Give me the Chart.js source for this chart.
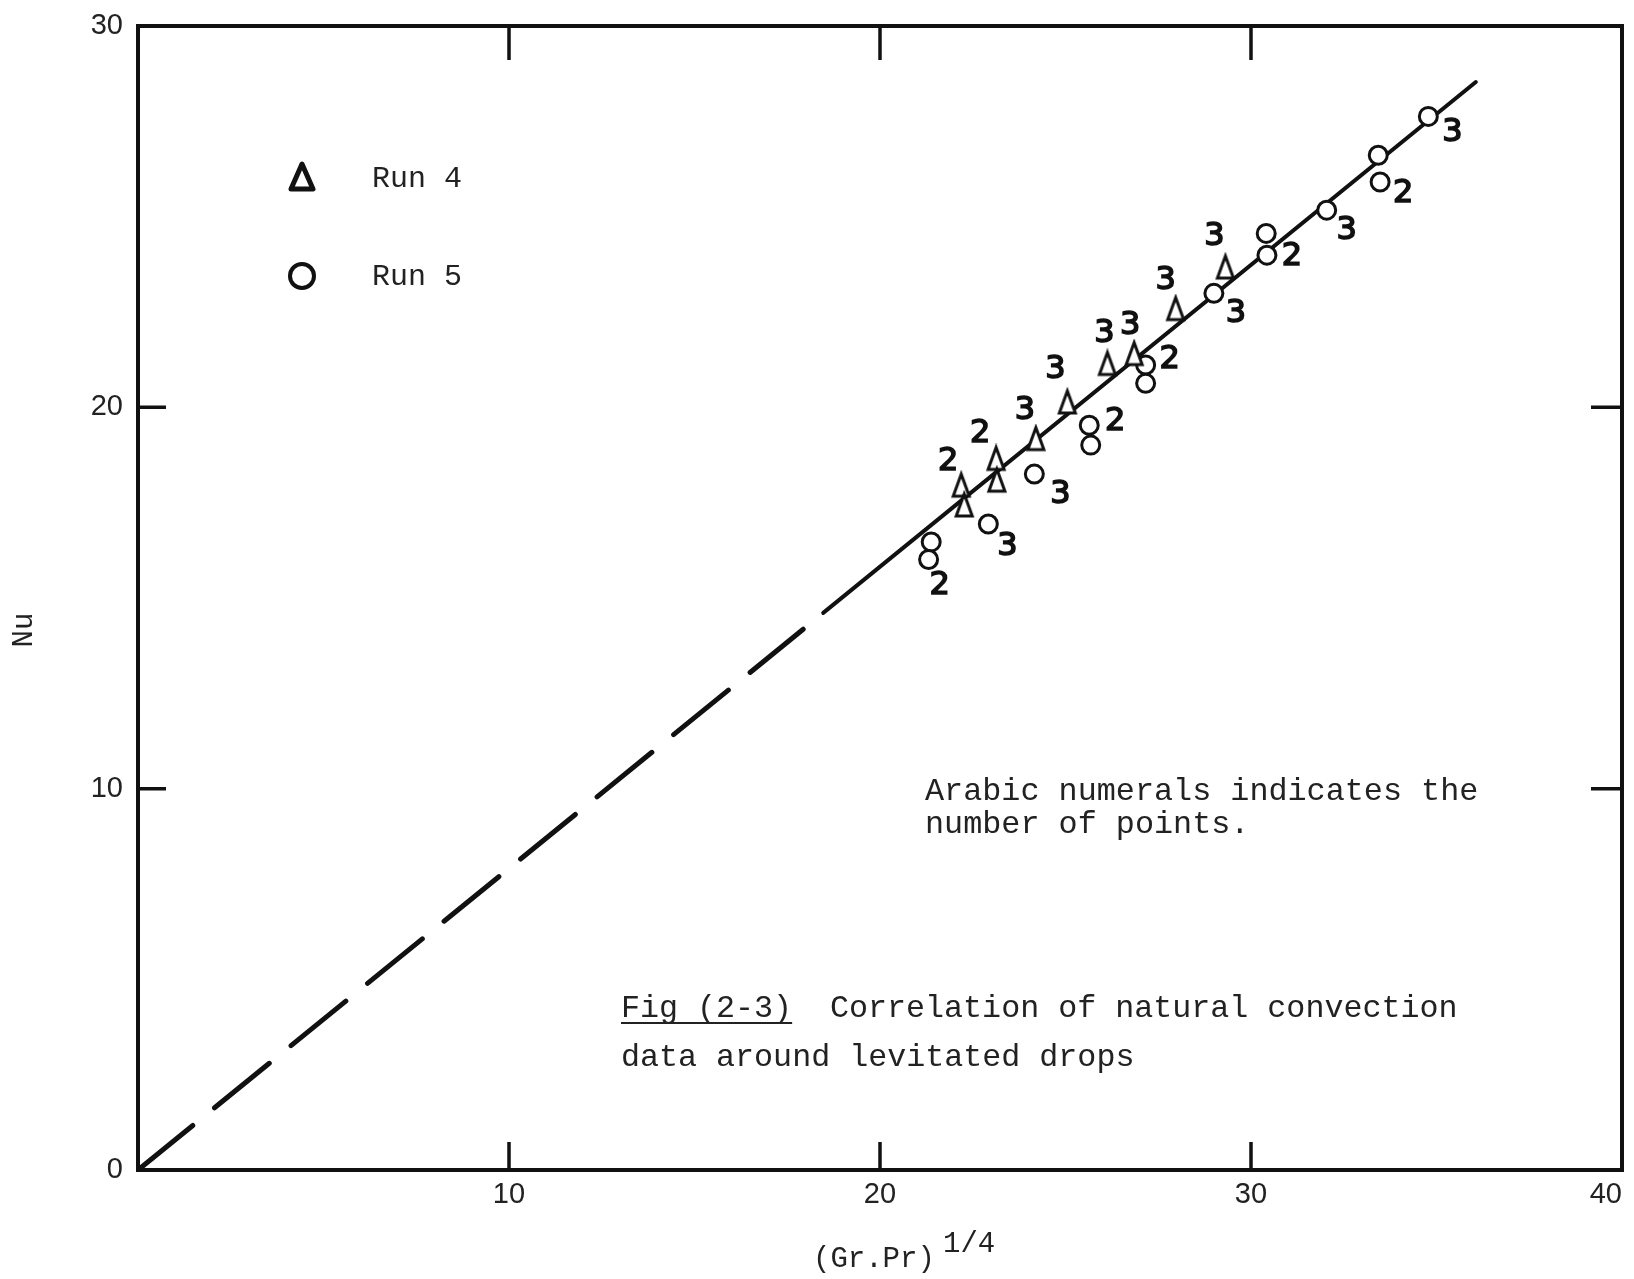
<!DOCTYPE html>
<html>
<head>
<meta charset="utf-8">
<script src="https://cdn.jsdelivr.net/npm/chart.js@4/dist/chart.umd.min.js"></script>
<style>
  html, body { margin: 0; padding: 0; background: #fff; }
  #wrap { width: 1634px; height: 1279px; position: relative; }
</style>
</head>
<body>
<div id="wrap"><canvas id="c" width="1634" height="1279"></canvas></div>
<script>
// Run 4 (triangles): (Gr.Pr)^1/4, Nu, number of coincident points
const run4X     = [22.19, 22.27, 23.13, 23.15, 24.20, 25.05, 26.13, 26.85, 27.97, 29.31];
const run4Nu    = [17.96, 17.44, 18.66, 18.09, 19.18, 20.14, 21.15, 21.41, 22.59, 23.68];
const run4Count = [2, null, 2, null, 3, 3, 3, 3, 3, 3];

// Run 5 (circles)
const run5X     = [21.38, 21.31, 22.92, 24.16, 25.64, 25.68, 27.16, 27.16, 29.00, 30.41, 30.43, 32.04, 33.43, 33.48, 34.78];
const run5Nu    = [16.47, 16.01, 16.94, 18.25, 19.53, 19.01, 21.11, 20.63, 22.99, 24.56, 23.99, 25.17, 26.61, 25.91, 27.63];
const run5Count = [null, 2, 3, 3, 2, null, 2, null, 3, null, 2, 3, null, 2, 3];

// Correlation line through the origin; extrapolated part drawn dashed
const fitDashX  = [0, 17.93];
const fitDashNu = [0, 14.18];
const fitX      = [18.47, 36.06];
const fitNu     = [14.61, 28.53];

const xTickValues = [0, 10, 20, 30, 40];
const yTickValues = [0, 10, 20, 30];

// Label placement for the point counts (pixel offsets from the marker)
const run4LabelOffset = [[-13,-23], null, [-16,-25], null, [-11,-28], [-12,-32], [-3,-30], [-4,-28], [-10,-28], [-11,-30]];
const run5LabelOffset = [null, [11,26], [19,23], [26,21], [26,-4], null, [24,-5], null, [22,20], null, [25,2], [20,21], null, [23,12], [24,16]];

const INK = '#111';
const MONO = "'Liberation Mono', 'DejaVu Sans Mono', monospace";

function pts(xs, ys) { return xs.map((x, i) => ({ x: x, y: ys[i] })); }

// narrow triangle marker
function triangleMarker(w, h, lw) {
  const c = document.createElement('canvas');
  c.width = w + lw * 2 + 2; c.height = h + lw * 2 + 2;
  const g = c.getContext('2d');
  const cx = c.width / 2, top = lw + 1, bot = lw + 1 + h;
  g.beginPath();
  g.moveTo(cx, top);
  g.lineTo(cx + w / 2, bot);
  g.lineTo(cx - w / 2, bot);
  g.closePath();
  g.fillStyle = '#fff'; g.fill();
  g.lineWidth = lw; g.lineJoin = 'miter'; g.strokeStyle = INK; g.stroke();
  return c;
}
const triMark = triangleMarker(16, 22, 3);

const decorations = {
  id: 'decorations',
  beforeDatasetsDraw(chart) {
    const ctx = chart.ctx, a = chart.chartArea;
    const xs = chart.scales.x, ys = chart.scales.y;
    ctx.save();
    ctx.strokeStyle = INK;
    ctx.lineWidth = 4;
    ctx.strokeRect(a.left, a.top, a.right - a.left, a.bottom - a.top);
    ctx.lineWidth = 3.5;
    ctx.beginPath();
    xTickValues.slice(1, -1).forEach(v => {
      const px = xs.getPixelForValue(v);
      ctx.moveTo(px, a.bottom); ctx.lineTo(px, a.bottom - 28);
      ctx.moveTo(px, a.top); ctx.lineTo(px, a.top + 34);
    });
    yTickValues.slice(1, -1).forEach(v => {
      const py = ys.getPixelForValue(v);
      ctx.moveTo(a.left, py); ctx.lineTo(a.left + 28, py);
      ctx.moveTo(a.right, py); ctx.lineTo(a.right - 31, py);
    });
    ctx.stroke();
    ctx.restore();
  },
  afterDraw(chart) {
    const ctx = chart.ctx;
    ctx.save();
    ctx.fillStyle = INK;
    ctx.strokeStyle = INK;

    // point counts
    ctx.font = "32px 'DejaVu Sans', sans-serif";
    ctx.textAlign = 'center';
    ctx.textBaseline = 'middle';
    ctx.lineWidth = 1.6;
    const drawCounts = (dsIndex, counts, offsets) => {
      const meta = chart.getDatasetMeta(dsIndex);
      meta.data.forEach((p, i) => {
        if (counts[i] == null) return;
        const o = offsets[i];
        const s = String(counts[i]);
        ctx.fillText(s, p.x + o[0], p.y + o[1]);
        ctx.strokeText(s, p.x + o[0], p.y + o[1]);
      });
    };
    drawCounts(2, run4Count, run4LabelOffset);
    drawCounts(3, run5Count, run5LabelOffset);

    // legend
    ctx.lineWidth = 5;
    ctx.lineJoin = 'round';
    ctx.beginPath();
    ctx.moveTo(302, 164); ctx.lineTo(313, 189); ctx.lineTo(291, 189); ctx.closePath();
    ctx.stroke();
    ctx.lineWidth = 4;
    ctx.beginPath();
    ctx.arc(302, 276, 12, 0, Math.PI * 2);
    ctx.stroke();

    ctx.fillStyle = '#222';
    ctx.textAlign = 'left';
    ctx.font = '30px ' + MONO;
    ctx.fillText('Run 4', 372, 179);
    ctx.fillText('Run 5', 372, 277);

    // notes
    ctx.font = '31.8px ' + MONO;
    ctx.fillText('Arabic numerals indicates the', 925, 792);
    ctx.fillText('number of points.', 925, 825);

    ctx.font = '31.7px ' + MONO;
    ctx.fillText('Fig (2-3)', 621, 1009);
    const w = ctx.measureText('Fig (2-3)').width;
    ctx.fillRect(621, 1022, w, 2);
    ctx.fillText('Correlation of natural convection', 830, 1009);
    ctx.fillText('data around levitated drops', 621, 1058);

    // axis titles
    ctx.font = '29px ' + MONO;
    ctx.fillText('(Gr.Pr)', 813, 1259);
    ctx.fillText('1/4', 943, 1244);

    ctx.translate(24, 630);
    ctx.rotate(-Math.PI / 2);
    ctx.textAlign = 'center';
    ctx.fillText('Nu', 0, 0);
    ctx.restore();
  }
};

new Chart(document.getElementById('c'), {
  type: 'scatter',
  data: {
    datasets: [
      {
        data: pts(fitDashX, fitDashNu), showLine: true, pointRadius: 0,
        borderColor: INK, borderWidth: 5, borderDash: [70.6, 28], borderCapStyle: 'round', order: 3
      },
      {
        data: pts(fitX, fitNu), showLine: true, pointRadius: 0,
        borderColor: INK, borderWidth: 4, borderCapStyle: 'round', order: 3
      },
      {
        label: 'Run 4', data: pts(run4X, run4Nu), pointStyle: triMark,
        pointRadius: 10, order: 1
      },
      {
        label: 'Run 5', data: pts(run5X, run5Nu), pointStyle: 'circle',
        pointRadius: 9, pointBorderWidth: 3, pointBorderColor: INK,
        pointBackgroundColor: '#fff', order: 1
      }
    ]
  },
  options: {
    responsive: false,
    animation: false,
    devicePixelRatio: 1,
    layout: { padding: { top: 26, right: 8, left: 0, bottom: 0 } },
    plugins: { legend: { display: false }, tooltip: { enabled: false } },
    scales: {
      x: {
        type: 'linear', min: 0, max: 40,
        grid: { display: false, drawTicks: false },
        border: { display: false },
        afterBuildTicks: s => { s.ticks = xTickValues.map(v => ({ value: v })); },
        afterFit: s => { s.height = 109; s.paddingLeft = 0; s.paddingRight = 0; },
        ticks: {
          padding: 8, maxRotation: 0, color: '#222', align: 'inner',
          callback: v => (v === 0 ? '' : String(v)),
          font: { family: "'Liberation Sans', Arial, sans-serif", size: 29 }
        }
      },
      y: {
        type: 'linear', min: 0, max: 30,
        grid: { display: false, drawTicks: false },
        border: { display: false },
        afterBuildTicks: s => { s.ticks = yTickValues.map(v => ({ value: v })); },
        afterFit: s => { s.width = 138; s.paddingTop = 0; s.paddingBottom = 0; },
        ticks: {
          padding: 15, color: '#222',
          font: { family: "'Liberation Sans', Arial, sans-serif", size: 29 }
        }
      }
    }
  },
  plugins: [decorations]
});
</script>
</body>
</html>
